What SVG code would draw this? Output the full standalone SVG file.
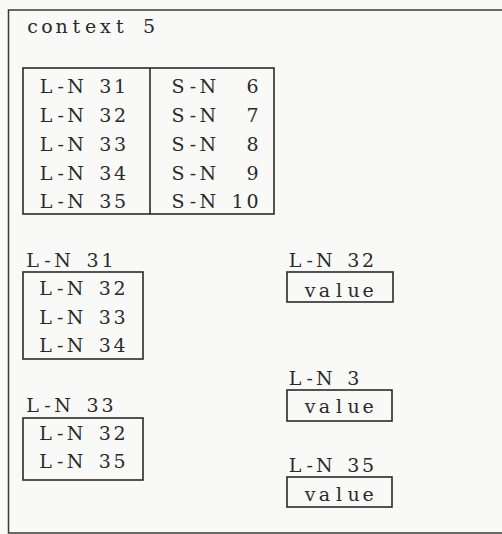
<svg xmlns="http://www.w3.org/2000/svg" width="502" height="534" viewBox="0 0 502 534">
  <style>
    /* typewriter look: each character centred in its own fixed-pitch cell */
    .t { font-family: "DejaVu Serif", "Liberation Serif", serif; font-size: 19px; fill: #2a2a2a; text-anchor: middle; }
    .box { fill: none; stroke: #2a2a2a; stroke-width: 1.6; }
    .frame { fill: none; stroke: #3a3a3a; stroke-width: 1.5; }
  </style>
  <rect width="502" height="534" fill="#f9f9f7"/>

  <!-- outer context frame (open on the right) -->
  <g id="context-frame">
    <polyline class="frame" points="502,10 8.5,10 8.5,533 502,533"/>
    <text class="t" x="32.5 47.1 61.6 76.2 90.7 105.3 119.9 134.4 149" y="33">context 5</text>
  </g>

  <!-- name table: long names and short names -->
  <g id="name-table">
    <rect class="box" x="23" y="68" width="251" height="146"/>
    <line class="box" x1="150" y1="68" x2="150" y2="214"/>
    <text class="t" x="46 60.8 75.6 90.4 105.2 120" y="93.3">L-N 31</text>
    <text class="t" x="46 60.8 75.6 90.4 105.2 120" y="122">L-N 32</text>
    <text class="t" x="46 60.8 75.6 90.4 105.2 120" y="150.8">L-N 33</text>
    <text class="t" x="46 60.8 75.6 90.4 105.2 120" y="179.5">L-N 34</text>
    <text class="t" x="46 60.8 75.6 90.4 105.2 120" y="208.3">L-N 35</text>
    <text class="t" x="178 192.9 207.8 222.7 237.6 252.5" y="93.3" xml:space="preserve">S-N  6</text>
    <text class="t" x="178 192.9 207.8 222.7 237.6 252.5" y="122" xml:space="preserve">S-N  7</text>
    <text class="t" x="178 192.9 207.8 222.7 237.6 252.5" y="150.8" xml:space="preserve">S-N  8</text>
    <text class="t" x="178 192.9 207.8 222.7 237.6 252.5" y="179.5" xml:space="preserve">S-N  9</text>
    <text class="t" x="178 192.9 207.8 222.7 237.6 252.5" y="208.3">S-N 10</text>
  </g>

  <!-- L-N 31 list -->
  <g id="list-ln31">
    <text class="t" x="32.5 47.5 62.5 77.5 92.5 107.5" y="267">L-N 31</text>
    <rect class="box" x="23" y="272" width="120" height="87"/>
    <text class="t" x="45.5 60.3 75.1 89.9 104.7 119.5" y="295">L-N 32</text>
    <text class="t" x="45.5 60.3 75.1 89.9 104.7 119.5" y="323.5">L-N 33</text>
    <text class="t" x="45.5 60.3 75.1 89.9 104.7 119.5" y="352">L-N 34</text>
  </g>

  <!-- L-N 33 list -->
  <g id="list-ln33">
    <text class="t" x="32.5 47.5 62.5 77.5 92.5 107.5" y="412">L-N 33</text>
    <rect class="box" x="23" y="418" width="120" height="62"/>
    <text class="t" x="45.5 60.3 75.1 89.9 104.7 119.5" y="440">L-N 32</text>
    <text class="t" x="45.5 60.3 75.1 89.9 104.7 119.5" y="468">L-N 35</text>
  </g>

  <!-- value cells -->
  <g id="value-ln32">
    <text class="t" x="295 309.6 324.2 338.8 353.4 368" y="267">L-N 32</text>
    <rect class="box" x="287" y="272" width="106" height="30"/>
    <text class="t" x="310 324.5 339 353.5 368" y="297">value</text>
  </g>
  <g id="value-ln3">
    <text class="t" x="295 309.6 324.2 338.8 353.4" y="385">L-N 3</text>
    <rect class="box" x="287" y="390" width="105" height="31"/>
    <text class="t" x="310 324.5 339 353.5 368" y="413">value</text>
  </g>
  <g id="value-ln35">
    <text class="t" x="295 309.6 324.2 338.8 353.4 368" y="472">L-N 35</text>
    <rect class="box" x="287" y="477" width="105" height="30"/>
    <text class="t" x="310 324.5 339 353.5 368" y="501">value</text>
  </g>
</svg>
